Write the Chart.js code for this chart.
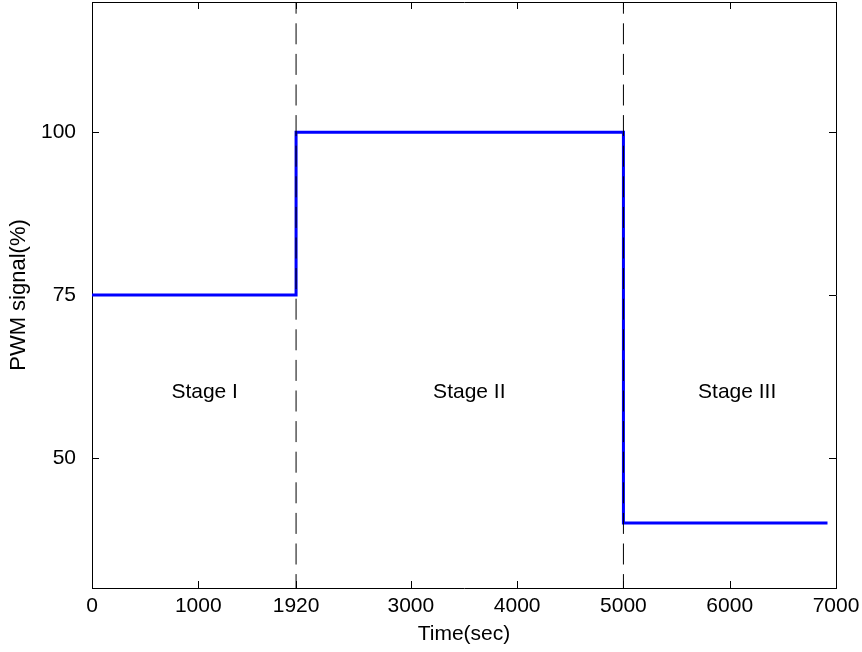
<!DOCTYPE html>
<html>
<head>
<meta charset="utf-8">
<title>PWM signal</title>
<script src="https://cdn.jsdelivr.net/npm/chart.js@4.4.0/dist/chart.umd.min.js"></script>
<style>
  html, body { margin: 0; padding: 0; background: #fff; }
  #wrap { width: 862px; height: 652px; }
</style>
</head>
<body>
<div id="wrap"><canvas id="c" width="862" height="652"></canvas></div>
<script>
  // data
  const timeSec = [0, 1920, 5000, 6920];
  const pwmPct = [75, 100, 40, 40];
  const stageBounds = [1920, 5000];
  const stageNames = ["Stage I", "Stage II", "Stage III"];
  const stageX = [1060, 3550, 6070];
  const stageY = [60, 60, 60];
  const xTicks = [0, 1000, 1920, 3000, 4000, 5000, 6000, 7000];
  const yTicks = [50, 75, 100];

  const FAMILY = '"Liberation Sans", Arial, Helvetica, sans-serif';
  const FS = 21;
  const TICK = 7;
  const font = { family: FAMILY, size: FS };

  // MATLAB-style ticks pointing into the box, on all four sides
  const inwardTicks = {
    id: "inwardTicks",
    beforeDatasetsDraw(chart) {
      const { ctx, chartArea: a, scales: { x, y } } = chart;
      ctx.save();
      ctx.strokeStyle = "#000";
      ctx.lineWidth = 1;
      ctx.beginPath();
      x.ticks.forEach((t) => {
        const px = Math.round(x.getPixelForValue(t.value)) + 0.5;
        ctx.moveTo(px, a.bottom); ctx.lineTo(px, a.bottom - TICK);
        ctx.moveTo(px, a.top); ctx.lineTo(px, a.top + TICK);
      });
      y.ticks.forEach((t) => {
        const py = Math.round(y.getPixelForValue(t.value)) + 0.5;
        ctx.moveTo(a.left, py); ctx.lineTo(a.left + TICK, py);
        ctx.moveTo(a.right, py); ctx.lineTo(a.right - TICK, py);
      });
      ctx.stroke();
      ctx.restore();
    },
    afterDatasetsDraw(chart) {
      const { ctx, scales: { x, y } } = chart;
      ctx.save();
      ctx.fillStyle = "#000";
      ctx.font = FS + "px " + FAMILY;
      ctx.textAlign = "center";
      ctx.textBaseline = "middle";
      stageNames.forEach((name, i) => {
        ctx.fillText(name, x.getPixelForValue(stageX[i]), y.getPixelForValue(stageY[i]));
      });
      ctx.restore();
    },
  };

  const dashed = stageBounds.map((b) => ({
    data: [{ x: b, y: 120 }, { x: b, y: 30 }],
    borderColor: "#000",
    borderWidth: 1,
    borderDash: [21, 9.6],
    borderDashOffset: 9.3,
    pointRadius: 0,
    order: 0,
  }));

  // keep the box where the reference has it: no label overhang padding
  const noPad = (s) => { s.paddingTop = 0; s.paddingBottom = 0; s.paddingLeft = 0; s.paddingRight = 0; };

  new Chart(document.getElementById("c"), {
    type: "line",
    data: {
      datasets: [
        ...dashed,
        {
          data: timeSec.map((t, i) => ({ x: t, y: pwmPct[i] })),
          stepped: true,
          borderColor: "#0000ff",
          borderWidth: 3,
          pointRadius: 0,
          order: 1,
        },
      ],
    },
    options: {
      responsive: false,
      animation: false,
      events: [],
      layout: { padding: 0 },
      plugins: { legend: { display: false }, tooltip: { enabled: false } },
      scales: {
        x: {
          type: "linear", position: "bottom", min: 0, max: 7000,
          afterBuildTicks: (s) => { s.ticks = xTicks.map((v) => ({ value: v })); },
          afterFit: (s) => { s.height = 64; noPad(s); },
          grid: { display: false, drawTicks: false },
          border: { display: true, color: "#000", width: 1 },
          ticks: { color: "#000", font, padding: 6, maxRotation: 0, autoSkip: false, callback: (v) => String(v) },
          title: { display: true, text: "Time(sec)", color: "#000", font, padding: { top: 0, bottom: 5 } },
        },
        xTop: {
          type: "linear", position: "top", min: 0, max: 7000,
          afterFit: (s) => { s.height = 2; noPad(s); },
          grid: { display: false },
          border: { display: true, color: "#000", width: 1 },
          ticks: { display: false },
        },
        y: {
          type: "linear", position: "left", min: 30, max: 120,
          afterBuildTicks: (s) => { s.ticks = yTicks.map((v) => ({ value: v })); },
          afterFit: (s) => { s.width = 92; noPad(s); },
          grid: { display: false, drawTicks: false },
          border: { display: true, color: "#000", width: 1 },
          ticks: { color: "#000", font, padding: 16, callback: (v) => String(v) },
          title: { display: true, text: "PWM signal(%)", color: "#000", font: { family: FAMILY, size: 22 }, padding: { top: 6, bottom: 0 } },
        },
        yRight: {
          type: "linear", position: "right", min: 30, max: 120,
          afterFit: (s) => { s.width = 26; noPad(s); },
          grid: { display: false },
          border: { display: true, color: "#000", width: 1 },
          ticks: { display: false },
        },
      },
    },
    plugins: [inwardTicks],
  });
</script>
</body>
</html>
